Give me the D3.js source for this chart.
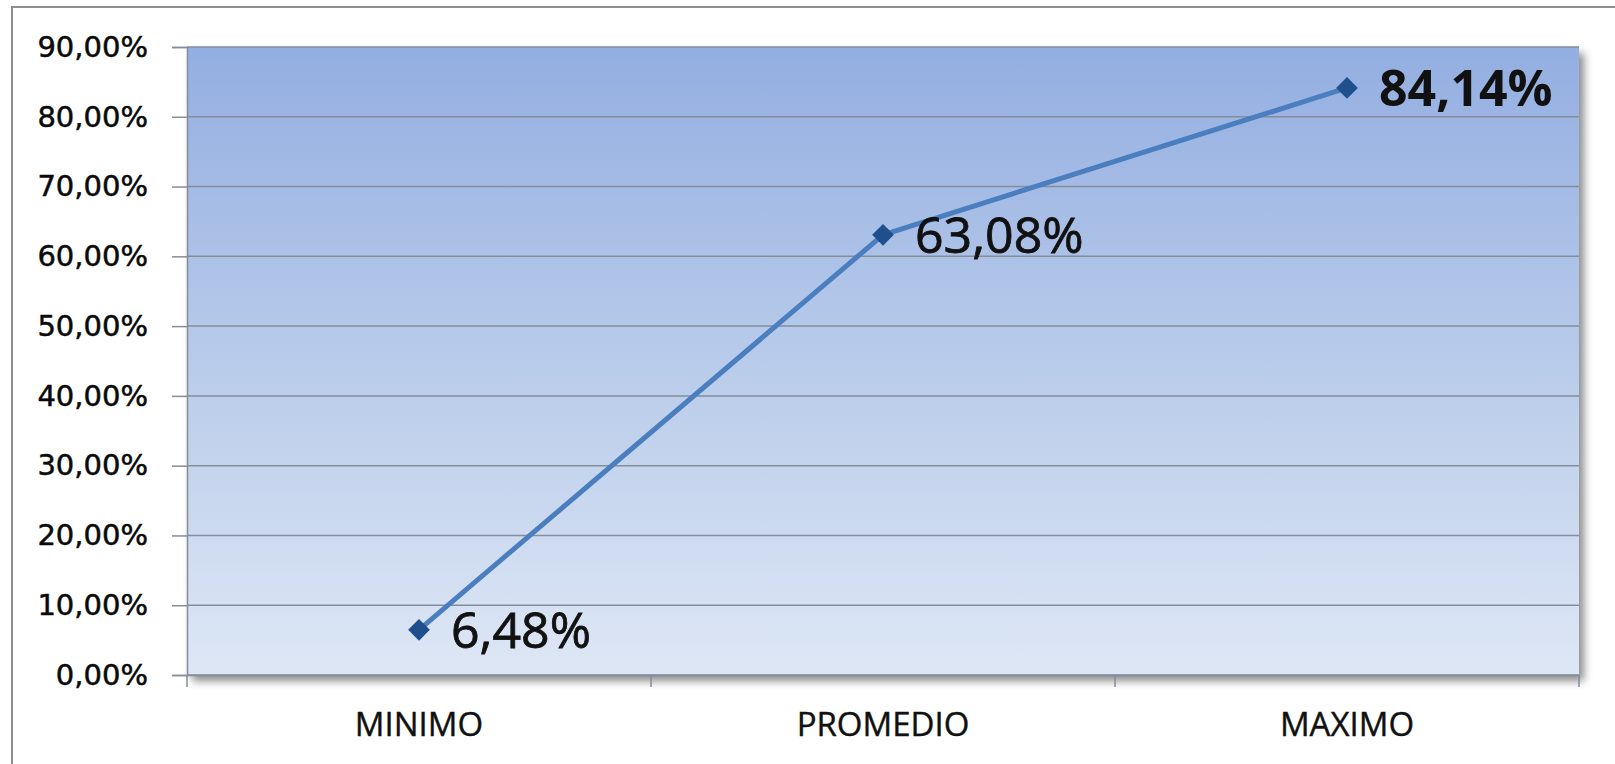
<!DOCTYPE html>
<html>
<head>
<meta charset="utf-8">
<script src="https://cdn.jsdelivr.net/npm/d3@7"></script>
<style>
  html, body { margin: 0; padding: 0; background: #fff; overflow: hidden; }
  svg { display: block; }
</style>
</head>
<body>
<svg id="chart" width="1615" height="764"></svg>
<script>
const categories = ["MINIMO", "PROMEDIO", "MAXIMO"];
const values = [6.48, 63.08, 84.14];
const valueLabels = ["6,48%", "63,08%", "84,14%"];
const yTicks = [0, 10, 20, 30, 40, 50, 60, 70, 80, 90];
const yTickLabels = ["0,00%", "10,00%", "20,00%", "30,00%", "40,00%", "50,00%", "60,00%", "70,00%", "80,00%", "90,00%"];

const svg = d3.select("#chart");
const W = 1615, H = 764;
const plot = { left: 187, right: 1579, top: 47, bottom: 675 };

const defs = svg.append("defs");
const grad = defs.append("linearGradient").attr("id", "bg")
  .attr("x1", 0).attr("y1", 0).attr("x2", 0).attr("y2", 1);
grad.append("stop").attr("offset", "0%").attr("stop-color", "#93aee1");
grad.append("stop").attr("offset", "50%").attr("stop-color", "#b8cbea");
grad.append("stop").attr("offset", "100%").attr("stop-color", "#dee7f5");

const f = defs.append("filter").attr("id", "shadow")
  .attr("x", "-5%").attr("y", "-5%").attr("width", "115%").attr("height", "115%");
f.append("feDropShadow").attr("dx", 5).attr("dy", 6).attr("stdDeviation", 4)
  .attr("flood-color", "#000").attr("flood-opacity", 0.45);

// outer chart border (left and top visible)
svg.append("rect").attr("x", 12).attr("y", 7).attr("width", W + 20).attr("height", H + 20)
  .attr("fill", "#fff").attr("stroke", "#8e8e8e").attr("stroke-width", 2);

const x = d3.scaleBand().domain(categories).range([plot.left, plot.right]).padding(0);
const y = d3.scaleLinear().domain([0, 90]).range([plot.bottom, plot.top]);

// plot area with gradient + shadow
svg.append("rect")
  .attr("x", plot.left).attr("y", plot.top)
  .attr("width", plot.right - plot.left).attr("height", plot.bottom - plot.top)
  .attr("fill", "url(#bg)").attr("filter", "url(#shadow)");

// gridlines
svg.append("g").selectAll("line").data(yTicks).join("line")
  .attr("x1", plot.left).attr("x2", plot.right)
  .attr("y1", d => y(d)).attr("y2", d => y(d))
  .attr("stroke", "#858d9b").attr("stroke-width", 1.5);

// y axis
const yAxis = d3.axisLeft(y).tickValues(yTicks)
  .tickFormat((d, i) => yTickLabels[i]).tickSize(15).tickPadding(24);
const gy = svg.append("g").attr("transform", `translate(${plot.left},0)`).call(yAxis);
gy.select(".domain").attr("stroke", "#858d9b").attr("stroke-width", 1.5);
gy.selectAll(".tick line").attr("stroke", "#858d9b").attr("stroke-width", 1.5);
gy.selectAll(".tick text").attr("font-family", "DejaVu Sans, Verdana, sans-serif")
  .attr("font-size", 29).attr("fill", "#0a0a0a")
  .attr("stroke", "#0a0a0a").attr("stroke-width", 0.5);

// x axis
const xAxis = d3.axisBottom(x).tickSize(0).tickPadding(38);
const gx = svg.append("g").attr("transform", `translate(0,${plot.bottom})`).call(xAxis);
gx.select(".domain").attr("stroke", "#858d9b").attr("stroke-width", 1.5);
gx.selectAll(".tick text").attr("font-family", "Open Sans, sans-serif")
  .attr("font-size", 33).attr("fill", "#111")
  .attr("stroke", "#111").attr("stroke-width", 0.4);
// category boundary ticks
const bounds = categories.map(c => x(c)).concat([x(categories[categories.length - 1]) + x.bandwidth()]);
gx.append("g").selectAll("line").data(bounds).join("line")
  .attr("x1", d => d).attr("x2", d => d).attr("y1", 0).attr("y2", 12)
  .attr("stroke", "#858d9b").attr("stroke-width", 1.5);

// line
const cx = d => x(d) + x.bandwidth() / 2;
const line = d3.line().x((d, i) => cx(categories[i])).y(d => y(d));
svg.append("path").datum(values).attr("d", line)
  .attr("fill", "none").attr("stroke", "#4a7ebf").attr("stroke-width", 5)
  .attr("stroke-linejoin", "round");

// markers (diamonds)
svg.append("g").selectAll("path").data(values).join("path")
  .attr("d", d3.symbol().type(d3.symbolDiamond2).size(300))
  .attr("transform", (d, i) => `translate(${cx(categories[i])},${y(d)})`)
  .attr("fill", "#1f4f8c");

// data labels
svg.append("g").selectAll("text").data(values).join("text")
  .attr("x", (d, i) => cx(categories[i]) + 32)
  .attr("y", d => y(d))
  .attr("dy", "0.36em")
  .attr("font-family", "Open Sans, sans-serif")
  .attr("font-size", 50)
  .attr("font-weight", (d, i) => i === 2 ? 700 : 400)
  .attr("fill", "#111")
  .attr("stroke", "#111")
  .attr("stroke-width", (d, i) => i === 2 ? 0 : 0.8)
  .text((d, i) => valueLabels[i]);
</script>
</body>
</html>
